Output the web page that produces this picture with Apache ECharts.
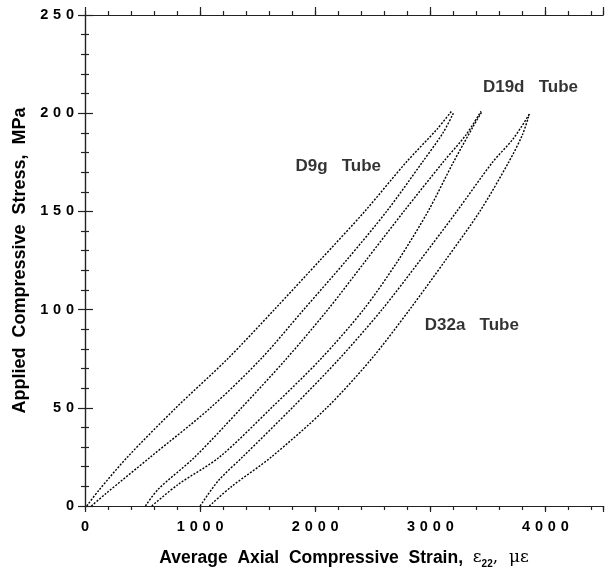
<!DOCTYPE html>
<html>
<head>
<meta charset="utf-8">
<script src="https://cdn.jsdelivr.net/npm/echarts@6/dist/echarts.min.js"></script>
<style>
  html, body { margin: 0; padding: 0; background: #fff; }
  #chart { width: 614px; height: 574px; }
</style>
</head>
<body>
<div id="chart"></div>
<script>
// strain (micro-strain) / stress (MPa) pairs
const d9gA = [[15,0],[120,8],[370,25],[790,50],[1240,75],[1645,100],[2040,125],[2430,150],[2790,175],[3060,192],[3190,201.5]];
const d9gB = [[55,0],[175,6],[570,25],[1090,50],[1530,75],[1900,100],[2270,125],[2620,150],[2930,175],[3110,190],[3200,200]];
const d19dA = [[525,0],[637,8.6],[955,25],[1360,50],[1750,75],[2110,100],[2440,125],[2770,150],[3110,175],[3310,189],[3440,201]];
const d19dB = [[580,0],[810,11],[1170,25],[1620,50],[2050,75],[2420,100],[2720,125],[2980,150],[3200,175],[3370,193],[3450,201]];
const d32aA = [[1000,0],[1160,13],[1370,25],[1800,50],[2210,75],[2580,100],[2910,125],[3230,150],[3540,175],[3720,187],[3860,199.5]];
const d32aB = [[1080,0],[1275,10],[1620,25],[2100,50],[2490,75],[2820,100],[3130,125],[3430,150],[3680,175],[3800,189],[3860,199.5]];

// curve labels: [strain, stress, text]
const tubeLabels = [[2200,173,"D9g   Tube"],[3870,213,"D19d   Tube"],[3360,92,"D32a   Tube"]];

const xMin = 0, xMax = 4500, yMin = 0, yMax = 250;

const chart = echarts.init(document.getElementById("chart"));
const axisColor = "#222";
const font = "Liberation Sans";

function spaced(v) {
  return String(v).split("").join("\u2004");
}

function xAx(pos, interval, len, labels) {
  return {
    type: "value", position: pos, min: xMin, max: xMax, interval: interval,
    axisLine: { show: true, lineStyle: { color: axisColor, width: 1.2 } },
    axisTick: { show: true, inside: false, length: len, lineStyle: { color: axisColor, width: 1.2 } },
    axisLabel: labels ? {
      show: true, margin: 13, color: "#000", fontFamily: font, fontWeight: "bold", fontSize: 14.5,
      formatter: v => (v % 1000 === 0 ? spaced(v) : "")
    } : { show: false },
    splitLine: { show: false }
  };
}

function lineSeries(data) {
  return {
    type: "line", data: data, xAxisIndex: 0, yAxisIndex: 0,
    showSymbol: false, smooth: 0.3,
    lineStyle: { color: "#000", width: 1.4, type: [2, 1.5] },
    silent: true, animation: false
  };
}

const xName = {
  name: "Average  Axial  Compressive  Strain,  {g|ε}{sub|22}{g|,  με}",
  nameLocation: "middle", nameGap: 41,
  nameTextStyle: {
    color: "#000", fontFamily: font, fontWeight: "bold", fontSize: 17.5, lineHeight: 22,
    rich: {
      g: { fontFamily: "DejaVu Serif", fontWeight: "normal", fontSize: 17, lineHeight: 22, color: "#000" },
      sub: { fontFamily: font, fontWeight: "bold", fontSize: 10, lineHeight: 10, verticalAlign: "bottom", color: "#000" }
    }
  }
};

const option = {
  backgroundColor: "#fff",
  animation: false,
  grid: { left: 85, right: 11, top: 15, bottom: 67, containLabel: false },
  xAxis: [
    Object.assign(xAx("bottom", 200, 4, true), xName),
    xAx("bottom", 1000, 6, false),
    xAx("top", 200, 4, false),
    xAx("top", 1000, 8, false)
  ],
  yAxis: [
    {
      type: "value", position: "left", min: yMin, max: yMax, interval: 50,
      name: "Applied  Compressive  Stress,  MPa", nameLocation: "middle", nameGap: 53,
      nameTextStyle: { color: "#000", fontFamily: font, fontWeight: "bold", fontSize: 18 },
      axisLine: { show: true, lineStyle: { color: axisColor, width: 1.2 } },
      axisTick: { show: true, inside: false, length: 7, lineStyle: { color: axisColor, width: 1.2 } },
      minorTick: { show: true, splitNumber: 5, length: 4, lineStyle: { color: axisColor, width: 1.2 } },
      axisLabel: { margin: 11, color: "#000", fontFamily: font, fontWeight: "bold", fontSize: 14.5, formatter: v => spaced(v) },
      splitLine: { show: false }, minorSplitLine: { show: false }
    },
    {
      type: "value", position: "right", min: yMin, max: yMax, interval: 50,
      axisLine: { show: true, lineStyle: { color: axisColor, width: 1.2 } },
      axisTick: { show: true, inside: false, length: 8, lineStyle: { color: axisColor, width: 1.2 } },
      minorTick: { show: true, splitNumber: 5, length: 4, lineStyle: { color: axisColor, width: 1.2 } },
      axisLabel: { show: false },
      splitLine: { show: false }, minorSplitLine: { show: false }
    }
  ],
  series: [
    lineSeries(d9gA), lineSeries(d9gB),
    lineSeries(d19dA), lineSeries(d19dB),
    lineSeries(d32aA), lineSeries(d32aB),
    {
      type: "scatter", xAxisIndex: 0, yAxisIndex: 0, symbolSize: 0, silent: true,
      data: tubeLabels.map(t => ({ value: [t[0], t[1]], name: t[2] })),
      label: {
        show: true, position: "inside", formatter: p => p.name,
        color: "#000", fontFamily: font, fontWeight: "bold", fontSize: 17
      }
    }
  ]
};

chart.setOption(option);
</script>
</body>
</html>
